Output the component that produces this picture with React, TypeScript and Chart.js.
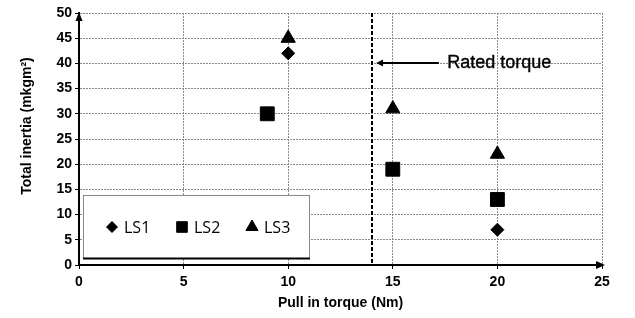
import React, { useEffect, useRef } from 'react';
import { Chart, registerables } from 'chart.js';
import { drawPoint } from 'chart.js/helpers';

Chart.register(...registerables);

const SERIES_LABELS = ['LS1', 'LS2', 'LS3'];
const SERIES_STYLES = ['rectRot', 'rect', 'triangle'];
const SERIES_RADII = [6.5, 9.8, 8.2];
const LEGEND_RADII = [5.5, 7.5, 7];

const LS1_X = [10, 20];
const LS1_Y = [42, 7];
const LS2_X = [9, 15, 20];
const LS2_Y = [30, 19, 13];
const LS3_X = [10, 15, 20];
const LS3_Y = [45, 31, 22];

const X_TICKS = [0, 5, 10, 15, 20, 25];
const Y_TICKS = [0, 5, 10, 15, 20, 25, 30, 35, 40, 45, 50];

const RATED_TORQUE = 14;
const ANNOTATION_TEXT = 'Rated torque';
const ANNOTATION_Y = 40;
const ARROW_FROM_X = 17.2;
const ARROW_TO_X = 14.2;
const TEXT_X = 17.6;

const X_TITLE = 'Pull in torque (Nm)';
const Y_TITLE = 'Total inertia (mkgm²)';

const TICK_FONT = { family: 'Liberation Sans, Arial, sans-serif', size: 14, weight: 'bold' as const };

const toPoints = (xs: number[], ys: number[]) => xs.map((x, i) => ({ x, y: ys[i] }));

const decorPlugin = {
  id: 'decor',
  beforeDatasetsDraw(chart: any) {
    const { ctx, chartArea, scales } = chart;
    const x = Math.round(scales.x.getPixelForValue(RATED_TORQUE));
    ctx.save();
    ctx.strokeStyle = '#000';
    ctx.lineWidth = 2;
    ctx.setLineDash([4, 2]);
    ctx.beginPath();
    ctx.moveTo(x, chartArea.top);
    ctx.lineTo(x, chartArea.bottom);
    ctx.stroke();
    ctx.restore();
  },
  afterDatasetsDraw(chart: any) {
    const { ctx, chartArea, scales } = chart;
    const xs = scales.x;
    const ys = scales.y;
    ctx.save();
    // annotation arrow
    const ay = Math.round(ys.getPixelForValue(ANNOTATION_Y));
    const ax1 = xs.getPixelForValue(ARROW_FROM_X);
    const ax2 = xs.getPixelForValue(ARROW_TO_X);
    ctx.strokeStyle = '#000';
    ctx.fillStyle = '#000';
    ctx.lineWidth = 1.8;
    ctx.beginPath();
    ctx.moveTo(ax1, ay);
    ctx.lineTo(ax2 + 4, ay);
    ctx.stroke();
    ctx.beginPath();
    ctx.moveTo(ax2, ay);
    ctx.lineTo(ax2 + 7, ay - 3.5);
    ctx.lineTo(ax2 + 7, ay + 3.5);
    ctx.closePath();
    ctx.fill();
    ctx.font = '18px "Liberation Sans", Arial, sans-serif';
    ctx.textAlign = 'left';
    ctx.textBaseline = 'middle';
    ctx.lineWidth = 0.4;
    ctx.fillText(ANNOTATION_TEXT, xs.getPixelForValue(TEXT_X), ay);
    ctx.strokeText(ANNOTATION_TEXT, xs.getPixelForValue(TEXT_X), ay);

    // legend box
    const lx = 83.5, ly = 195.5, lw = 226, lh = 63;
    ctx.fillStyle = '#fff';
    ctx.fillRect(lx, ly, lw, lh);
    ctx.strokeStyle = '#8a8a8a';
    ctx.lineWidth = 1;
    ctx.strokeRect(lx, ly, lw, lh);
    ctx.strokeStyle = '#000';
    ctx.lineWidth = 2;
    ctx.beginPath();
    ctx.moveTo(lx - 0.5, ly + lh);
    ctx.lineTo(lx + lw + 0.5, ly + lh);
    ctx.stroke();
    const itemX = [112, 182, 252];
    const itemY = 227;
    ctx.font = '16px "Open Sans", sans-serif';
    ctx.textBaseline = 'middle';
    ctx.textAlign = 'left';
    chart.data.datasets.forEach((ds: any, i: number) => {
      ctx.fillStyle = '#000';
      ctx.strokeStyle = '#000';
      ctx.lineWidth = 1;
      drawPoint(ctx, { pointStyle: SERIES_STYLES[i], radius: LEGEND_RADII[i], rotation: 0, borderWidth: 1 } as any, itemX[i], itemY);
      ctx.fillStyle = '#000';
      ctx.fillText(ds.label, itemX[i] + 12, itemY + 1);
    });

    // axis arrows
    const ox = Math.round(xs.getPixelForValue(0));
    const top = chartArea.top;
    ctx.fillStyle = '#000';
    ctx.beginPath();
    ctx.moveTo(ox, top - 1);
    ctx.lineTo(ox - 3.5, top + 8);
    ctx.lineTo(ox + 3.5, top + 8);
    ctx.closePath();
    ctx.fill();
    const oy = Math.round(ys.getPixelForValue(0));
    const right = chartArea.right;
    ctx.beginPath();
    ctx.moveTo(right + 3, oy);
    ctx.lineTo(right - 6, oy - 4);
    ctx.lineTo(right - 6, oy + 4);
    ctx.closePath();
    ctx.fill();

    // y title
    ctx.font = 'bold 14px "Liberation Sans", Arial, sans-serif';
    ctx.textAlign = 'center';
    ctx.textBaseline = 'middle';
    ctx.translate(27, 126);
    ctx.rotate(-Math.PI / 2);
    ctx.fillText(Y_TITLE, 0, 0);
    ctx.restore();
  },
};

export default function App() {
  const ref = useRef<HTMLCanvasElement>(null);
  useEffect(() => {
    const seriesX = [LS1_X, LS2_X, LS3_X];
    const seriesY = [LS1_Y, LS2_Y, LS3_Y];
    const chart = new Chart(ref.current as HTMLCanvasElement, {
      type: 'scatter',
      data: {
        datasets: SERIES_LABELS.map((label, i) => ({
          label,
          data: toPoints(seriesX[i], seriesY[i]),
          pointStyle: SERIES_STYLES[i] as any,
          pointRadius: SERIES_RADII[i],
          pointHoverRadius: SERIES_RADII[i],
          backgroundColor: '#000',
          borderColor: '#000',
          borderWidth: 1,
        })),
      },
      options: {
        animation: false,
        responsive: false,
        devicePixelRatio: 1,
        layout: { padding: { top: 13, right: 33, bottom: 0, left: 0 } },
        plugins: { legend: { display: false }, tooltip: { enabled: false } },
        scales: {
          x: {
            type: 'linear',
            min: 0,
            max: 25,
            afterBuildTicks: (s: any) => { s.ticks = X_TICKS.map((v) => ({ value: v })); },
            afterFit: (s: any) => { s.height = 53; },
            ticks: { font: TICK_FONT, color: '#000', padding: 5, maxRotation: 0 },
            grid: { color: '#8a8a8a', lineWidth: 1, tickColor: '#000', tickLength: 4, tickWidth: 1, tickBorderDash: [] },
            border: { color: '#000', width: 2, dash: [2, 1] },
            title: {
              display: true,
              text: X_TITLE,
              font: TICK_FONT,
              color: '#000',
              padding: { top: 0, bottom: 6 },
            },
          },
          y: {
            type: 'linear',
            min: 0,
            max: 50,
            afterBuildTicks: (s: any) => { s.ticks = Y_TICKS.map((v) => ({ value: v })); },
            afterFit: (s: any) => { s.width = 79; },
            ticks: { font: TICK_FONT, color: '#000', padding: 3 },
            grid: { color: '#8a8a8a', lineWidth: 1, tickColor: '#000', tickLength: 4, tickWidth: 1, tickBorderDash: [] },
            border: { color: '#000', width: 2, dash: [2, 1] },
          },
        },
      },
      plugins: [decorPlugin],
    });
    return () => chart.destroy();
  }, []);
  return (
    <div style={{ position: 'fixed', left: 0, top: 0, width: 635, height: 318, background: '#fff' }}>
      <canvas ref={ref} width={635} height={318} style={{ display: 'block', width: 635, height: 318 }} />
    </div>
  );
}
